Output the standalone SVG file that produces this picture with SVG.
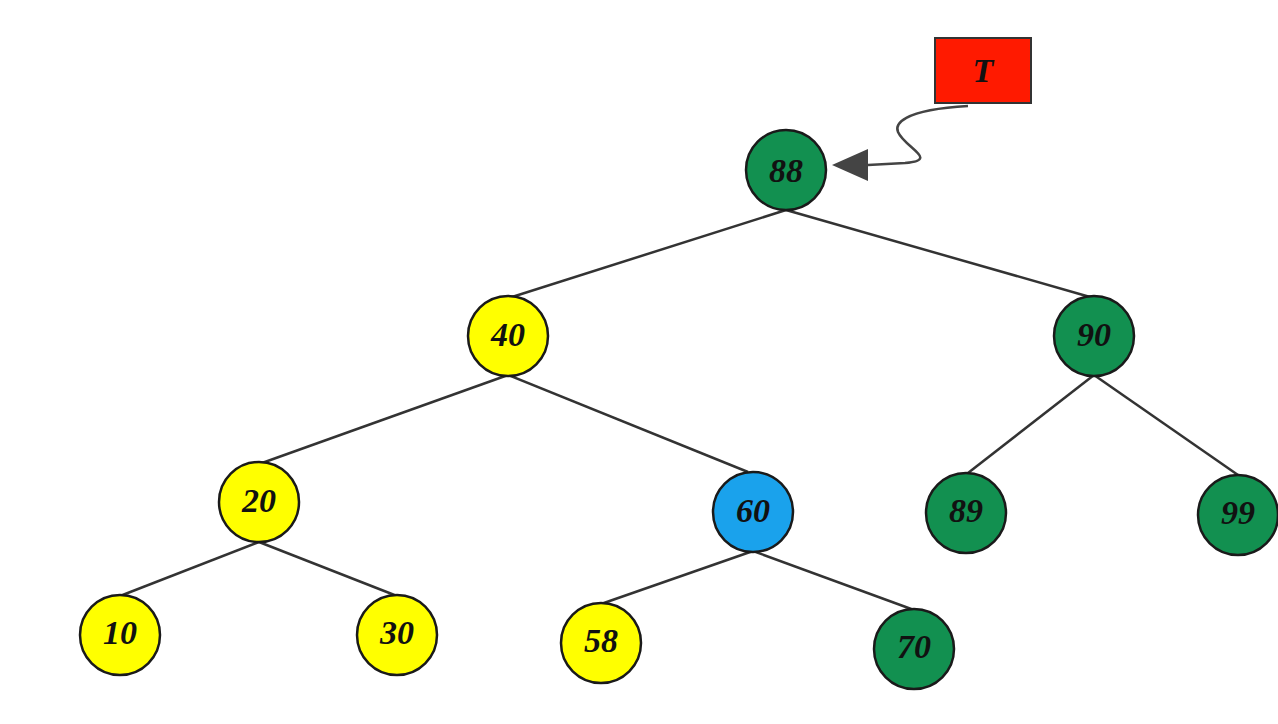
<svg xmlns="http://www.w3.org/2000/svg" width="1278" height="724" viewBox="0 0 1278 724">
<style>
.n{stroke:#1a1a1a;stroke-width:2.5}
.g{fill:#129050}
.y{fill:#ffff00}
.b{fill:#1aa2ec}
.t{font-family:"Liberation Serif",serif;font-weight:bold;font-style:italic;font-size:34px;fill:#111;text-anchor:middle;dominant-baseline:central}
.e{stroke:#333;stroke-width:2.5;fill:none}
</style>
<defs>
<marker id="ah" markerWidth="10" markerHeight="10" refX="9" refY="5" orient="auto" markerUnits="userSpaceOnUse" viewBox="0 0 10 10">
<path d="M0,0 L10,5 L0,10 z" fill="#444"/>
</marker>
</defs>
<rect width="1278" height="724" fill="#fff"/>
<g id="connectors">
<line class="e" x1="786" y1="210" x2="512" y2="297"/>
<line class="e" x1="786" y1="210" x2="1090" y2="297"/>
<line class="e" x1="508" y1="375" x2="262" y2="463"/>
<line class="e" x1="508" y1="375" x2="748" y2="472"/>
<line class="e" x1="259" y1="542" x2="120" y2="596"/>
<line class="e" x1="259" y1="542" x2="397" y2="596"/>
<line class="e" x1="753" y1="551" x2="601" y2="604"/>
<line class="e" x1="753" y1="551" x2="914" y2="610"/>
<line class="e" x1="1094" y1="375" x2="968" y2="473"/>
<line class="e" x1="1094" y1="375" x2="1238" y2="475"/>
<path d="M968,106 C900,110 895,125 898,132 C905,148 940,160 905,163 L868,165" stroke="#444" stroke-width="2.5" fill="none"/>
<path d="M832,165 L868,149 L868,181 z" fill="#444"/>
</g>
<g id="node-T"><rect x="935" y="38" width="96" height="65" fill="#ff1a00" stroke="#333" stroke-width="2"/><text class="t" x="983" y="70">T</text></g>
<g id="node-88"><circle class="n g" cx="786" cy="170" r="40"/><text class="t" x="786" y="170">88</text></g>
<g id="node-40"><circle class="n y" cx="508" cy="336" r="40"/><text class="t" x="508" y="334">40</text></g>
<g id="node-90"><circle class="n g" cx="1094" cy="336" r="40"/><text class="t" x="1094" y="334">90</text></g>
<g id="node-20"><circle class="n y" cx="259" cy="502" r="40"/><text class="t" x="259" y="500">20</text></g>
<g id="node-60"><circle class="n b" cx="753" cy="512" r="40"/><text class="t" x="753" y="510">60</text></g>
<g id="node-89"><circle class="n g" cx="966" cy="513" r="40"/><text class="t" x="966" y="510">89</text></g>
<g id="node-99"><circle class="n g" cx="1238" cy="515" r="40"/><text class="t" x="1238" y="512">99</text></g>
<g id="node-10"><circle class="n y" cx="120" cy="635" r="40"/><text class="t" x="120" y="632">10</text></g>
<g id="node-30"><circle class="n y" cx="397" cy="635" r="40"/><text class="t" x="397" y="632">30</text></g>
<g id="node-58"><circle class="n y" cx="601" cy="643" r="40"/><text class="t" x="601" y="640">58</text></g>
<g id="node-70"><circle class="n g" cx="914" cy="649" r="40"/><text class="t" x="914" y="646">70</text></g>
</svg>
